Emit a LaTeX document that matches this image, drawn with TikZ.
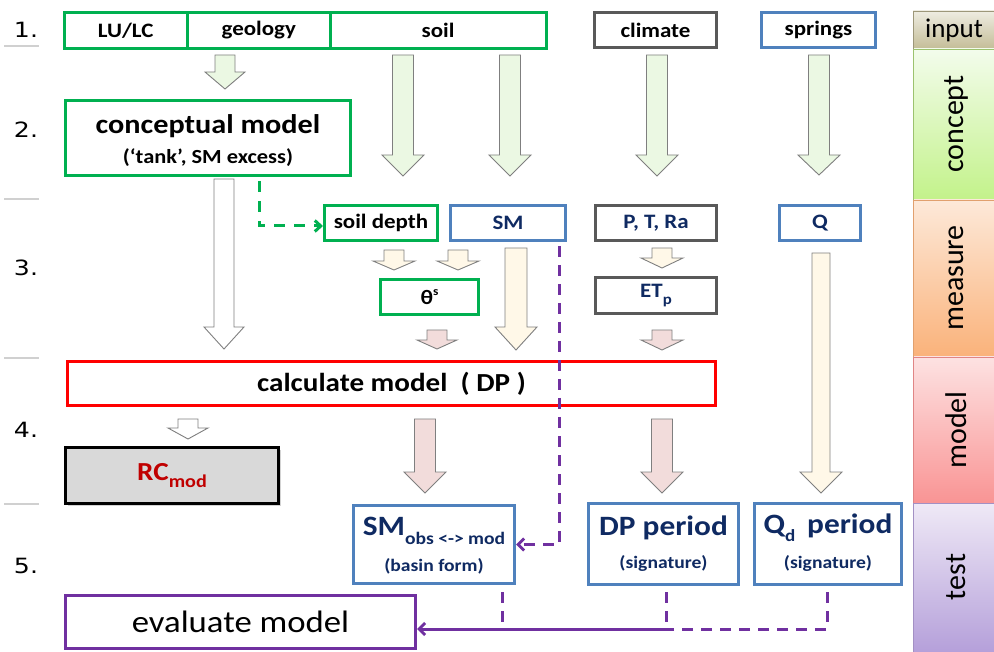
\documentclass[tikz,border=0pt]{standalone}
\usepackage{fontspec}
\setmainfont{Carlito}[FakeStretch=1.12]
\newfontfamily\plainfont{Carlito}
\newfontfamily\numfont{DejaVu Sans}[FakeStretch=1.2]
\usetikzlibrary{arrows.meta,shadows}
\definecolor{cgreen}{HTML}{00B050}
\definecolor{cblue}{HTML}{4F81BD}
\definecolor{cdgray}{HTML}{595959}
\definecolor{cred}{HTML}{FF0000}
\definecolor{cpurple}{HTML}{7030A0}
\definecolor{cnavy}{HTML}{0F2A62}
\definecolor{cdarkred}{HTML}{C00000}
\definecolor{carrow}{HTML}{7F7F7F}
\definecolor{fgreen}{HTML}{EBF8E3}
\definecolor{fcream}{HTML}{FFF8E8}
\definecolor{fpink}{HTML}{F2DCDB}
\definecolor{csep}{HTML}{D0D0D0}
\definecolor{inTop}{HTML}{EEECE1}\definecolor{inBot}{HTML}{C4BD97}
\definecolor{coTop}{HTML}{F3FCEC}\definecolor{coBot}{HTML}{C3F28A}
\definecolor{meTop}{HTML}{FDE9D9}\definecolor{meBot}{HTML}{FAB27A}
\definecolor{moTop}{HTML}{FDE2E2}\definecolor{moBot}{HTML}{F99494}
\definecolor{teTop}{HTML}{EFE9F6}\definecolor{teBot}{HTML}{B5A0DA}
\newcommand\fsz[1]{\fontsize{#1}{#1}\selectfont}
% cx, top, head start, tip, shaft half width, head half width, fill
\newcommand\barrow[7]{%
  \filldraw[arrline, fill=#7] (#1-#5,#2) -- (#1+#5,#2) -- (#1+#5,#3) -- (#1+#6,#3)
    -- (#1,#4) -- (#1-#6,#3) -- (#1-#5,#3) -- cycle;}
\begin{document}
\begin{tikzpicture}[x=1pt,y=-1pt,
  box/.style={draw, line width=3pt, inner sep=0pt, align=center, fill=white},
  gbox/.style={box, draw=cgreen},
  bbox/.style={box, draw=cblue},
  kbox/.style={box, draw=cdgray},
  arrline/.style={draw=carrow, line width=0.9pt},
  pdash/.style={draw=cpurple, line width=3pt, dash pattern=on 11pt off 8pt},
  psolid/.style={draw=cpurple, line width=3pt},
  gdash/.style={draw=cgreen, line width=3pt, dash pattern=on 11pt off 9pt},
  sepline/.style={draw=csep, line width=1.5pt},
  lbl/.style={font=\bfseries\fsz{20.5}},
  navy/.style={text=cnavy},
  numlbl/.style={font=\numfont\fsz{21}},
  barlbl/.style={font=\plainfont\fsz{30}, rotate=90},
  barcell/.style={draw=#1, line width=0.8pt}
]
\useasboundingbox (0,0) rectangle (994,652);

% step numbers and separators
\node[numlbl] (n1) at (26,30) {1.};
\node[numlbl] (n2) at (26,130) {2.};
\node[numlbl] (n3) at (26,268) {3.};
\node[numlbl] (n4) at (26,430) {4.};
\node[numlbl] (n5) at (26,566) {5.};
\draw[sepline] (4,46) -- (39,46);
\draw[sepline] (4,199) -- (39,199);
\draw[sepline] (4,358) -- (39,358);
\draw[sepline] (4,504) -- (39,504);

% right-hand bar
\shade[top color=inTop, bottom color=inBot] (913,11) rectangle (994,49);
\shade[top color=coTop, bottom color=coBot] (913,49) rectangle (994,200);
\shade[top color=meTop, bottom color=meBot] (913,200) rectangle (994,357);
\shade[top color=moTop, bottom color=moBot] (913,357) rectangle (994,503);
\shade[top color=teTop, bottom color=teBot] (913,503) rectangle (994,652);
\draw[barcell=inBot!80!black] (913,11) rectangle (994,49);
\draw[barcell=coBot!80!black] (913,49) rectangle (994,200);
\draw[barcell=meBot!90!black] (913,200) rectangle (994,357);
\draw[barcell=moBot!90!black] (913,357) rectangle (994,503);
\draw[barcell=teBot!90!black] (913,503) rectangle (994,652);
\node[font=\plainfont\fsz{27}] (binput) at (954,30) {input};
\node[barlbl] (bconcept) at (956,124) {concept};
\node[barlbl] (bmeasure) at (956,278) {measure};
\node[barlbl] (bmodel) at (956,430) {model};
\node[barlbl] (btest) at (956,577) {test};

% row 1
\node[gbox, lbl, minimum width=123.5pt, minimum height=36pt] (lulc) at (125.75,30.5) {LU/LC};
\node[gbox, lbl, minimum width=142.5pt, minimum height=36pt] (geol) at (258.75,30.5) {geology};
\node[gbox, lbl, minimum width=216pt, minimum height=36pt] (soil) at (438,30.5) {soil};
\node[kbox, lbl, minimum width=122pt, minimum height=35pt] (clim) at (655.5,30) {climate};
\node[bbox, lbl, minimum width=114pt, minimum height=35pt] (spr) at (818.5,30) {springs};

% row 2
\node[gbox, minimum width=285pt, minimum height=75pt] (cm) at (208,138) {};
\node[font=\bfseries\fsz{27}] (cmt1) at (208,126) {conceptual model};
\node[font=\bfseries\fsz{20}] (cmt2) at (208,158) {(`tank', SM excess)};

% row 3
\node[gbox, lbl, minimum width=113pt, minimum height=35pt] (sd) at (381,223) {soil depth};
\node[bbox, lbl, navy, minimum width=115pt, minimum height=35pt] (sm) at (508,223) {SM};
\node[kbox, lbl, navy, minimum width=121pt, minimum height=35pt] (ptr) at (656,223) {P, T, Ra};
\node[bbox, lbl, navy, minimum width=81pt, minimum height=35pt] (q) at (820,223) {Q};
\node[gbox, lbl, minimum width=98pt, minimum height=35pt] (th) at (429.5,297) {θ\raisebox{0.45em}{\fsz{12}s}};
\node[kbox, lbl, navy, minimum width=121pt, minimum height=36pt] (etp) at (656,295.5) {ET\raisebox{-0.3em}{\fsz{15}p}};

% row 4
\node[box, draw=cred, minimum width=648pt, minimum height=44pt, font=\bfseries\fsz{26}] (calc) at (391.5,383.5) {calculate model~~( DP )};
\node[box, draw=black, fill=black!15, minimum width=213pt, minimum height=56pt,
      drop shadow={shadow xshift=2pt, shadow yshift=-2pt, opacity=0.35},
      font=\bfseries\fsz{26}, text=cdarkred] (rc) at (172,475.5) {RC\raisebox{-0.3em}{\fsz{18}mod}};

% row 5
\node[bbox, minimum width=161pt, minimum height=78pt] (smo) at (434,544.5) {};
\node[font=\bfseries\fsz{28}, navy] (smo1) at (434,531) {SM\raisebox{-0.3em}{\fsz{17.5}obs <-> mod}};
\node[font=\bfseries\fsz{17.5}, navy] (smo2) at (434,566) {(basin form)};
\node[bbox, minimum width=150pt, minimum height=81pt] (dp) at (663.5,544) {};
\node[font=\bfseries\fsz{28}, navy] (dp1) at (663.5,528) {DP period};
\node[font=\bfseries\fsz{17.5}, navy] (dp2) at (663.5,563) {(signature)};
\node[bbox, minimum width=147pt, minimum height=81pt] (qd) at (828,544) {};
\node[font=\bfseries\fsz{28}, navy] (qd1) at (828,528) {Q\raisebox{-0.3em}{\fsz{17}d}\, period};
\node[font=\bfseries\fsz{17.5}, navy] (qd2) at (828,563) {(signature)};
\node[box, draw=cpurple, minimum width=350pt, minimum height=53pt, font=\fsz{31}] (ev) at (240.5,622) {evaluate model};

% block arrows
\barrow{225}{55}{72}{89}{10}{20}{fgreen}
\barrow{403}{55}{155}{176}{10.5}{21}{fgreen}
\barrow{510}{55}{155}{176}{10.5}{21}{fgreen}
\barrow{657}{55}{155}{176}{10.5}{21}{fgreen}
\barrow{819}{55}{155}{175}{10.5}{21}{fgreen}
\barrow{224}{179}{327}{349}{10}{20}{white}
\barrow{394}{250}{261}{270}{10}{21}{fcream}
\barrow{458}{250}{261}{270}{10}{21}{fcream}
\barrow{662}{248}{258}{268}{10}{21}{fcream}
\barrow{516}{248}{327}{350}{11}{21}{fcream}
\barrow{821}{253}{472}{493}{9}{21}{fcream}
\barrow{437}{330}{340}{349}{10}{20}{fpink}
\barrow{662}{330}{340}{350}{10}{21}{fpink}
\barrow{188}{419}{428}{439}{10}{20}{white}
\barrow{425}{419}{472}{493}{10.5}{21}{fpink}
\barrow{662}{419}{472}{493}{10.5}{21}{fpink}

% dashed connectors
\coordinate (g1) at (259,181);
\draw[gdash, -{Straight Barb[length=6pt,width=11pt]}] (g1) |- ([yshift=-3pt]sd.west);
\coordinate (p1) at (559,246);
\draw[pdash, -{Straight Barb[length=6pt,width=12pt]}] (p1) |- (smo.east);
\coordinate (s1) at (502,592);
\coordinate (j2) at (502,629);
\coordinate (d1) at (666,592);
\coordinate (j1) at (666,629);
\coordinate (qq1) at (827,592);
\draw[pdash] (s1) -- (j2);
\draw[pdash] (d1) -- (j1);
\draw[pdash] (qq1) |- (j1);
\draw[psolid, -{Straight Barb[length=6pt,width=12pt]}] (j1) -- (ev.east |- j1);
\end{tikzpicture}
\end{document}
